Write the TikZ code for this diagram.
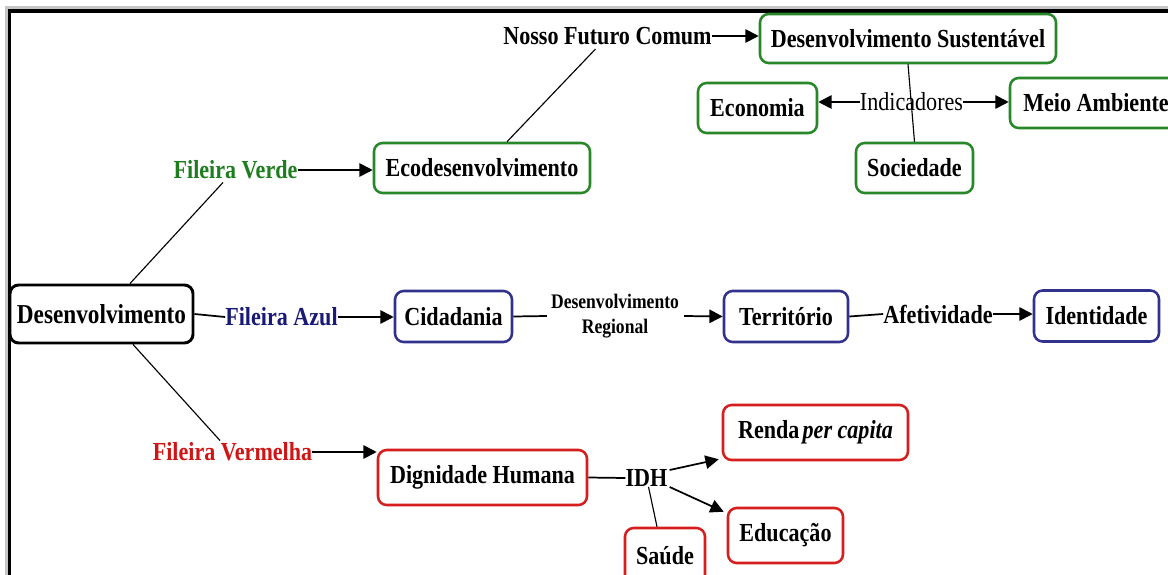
\documentclass[tikz,border=0pt]{standalone}
\usepackage{fontspec}
\newfontfamily\cf{Liberation Serif}[FakeStretch=0.85]
\usetikzlibrary{arrows.meta,calc}
\definecolor{gbord}{RGB}{40,135,40}
\definecolor{gtext}{RGB}{30,125,30}
\definecolor{bbord}{RGB}{50,50,140}
\definecolor{btext}{RGB}{25,25,120}
\definecolor{rbord}{RGB}{215,30,30}
\definecolor{rtext}{RGB}{210,20,20}
\tikzset{
  every node/.style={font=\cf\bfseries\fontsize{19.5}{22}\selectfont, inner sep=0pt},
  mw/.style={minimum width={#1*0.75pt}},
  mh/.style={minimum height={#1*0.75pt}},
  box/.style={draw, rounded corners=6.5pt, line width=1.9pt, fill=white, align=center},
  gbox/.style={box, draw=gbord},
  bbox/.style={box, draw=bbord},
  rbox/.style={box, draw=rbord},
  kbox/.style={box, draw=black, line width=2.2pt},
  conn/.style={line width=1.3pt},
  thin/.style={line width=0.85pt},
  arr/.style={line width=1.3pt, -{Triangle[length=10pt,width=10pt]}},
}
\begin{document}
\begin{tikzpicture}[x=0.75pt,y=-0.75pt]
\useasboundingbox (0,0) rectangle (1168,575);
\clip (0,0) rectangle (1168,575);
\fill[white] (0,0) rectangle (1168,575);
% frame
\draw[gray!45, line width=2pt] (6.5,575) -- (6.5,7.5) -- (1168,7.5);
\draw[black, line width=2.4pt] (9.5,575) -- (9.5,11) -- (1168,11);

% row 1 (green)
\node[kbox, mw=183, mh=58, font=\cf\bfseries\fontsize{20.5}{24}\selectfont] (des) at (101.5,314) {Desenvolvimento};
\node[text=gtext] (fv) at (235.5,170) {Fileira Verde};
\node[gbox, mw=216, mh=50] (eco) at (482,168) {Ecodesenvolvimento};
\node (nfc) at (607.5,36) {Nosso Futuro Comum};
\node[gbox, mw=296, mh=49] (ds) at (908,38.5) {Desenvolvimento Sustentável};
\node[font=\cf\fontsize{19.5}{22}\selectfont] (ind) at (911.5,102) {Indicadores};
\node[gbox, mw=119, mh=50] (ec) at (757.5,108) {Economia};
\node[gbox, mw=172, mh=50] (ma) at (1096,103) {Meio Ambiente};
\node[gbox, mw=117, mh=50] (soc) at (914.5,168) {Sociedade};

% row 2 (blue)
\node[text=btext] (fa) at (281.5,317) {Fileira Azul};
\node[bbox, mw=117, mh=51] (cid) at (453.5,316.5) {Cidadania};
\node[align=center, font=\cf\bfseries\fontsize{15.5}{19}\selectfont] (dr) at (615,316) {Desenvolvimento\\Regional};
\node[bbox, mw=124, mh=51] (ter) at (786,316.5) {Território};
\node (af) at (938,314) {Afetividade};
\node[bbox, mw=125, mh=51] (idt) at (1096.5,316) {Identidade};

% row 3 (red)
\node[text=rtext] (fvm) at (232.5,452) {Fileira Vermelha};
\node[rbox, mw=209, mh=55] (dh) at (482.5,477.5) {Dignidade Humana};
\node (idh) at (646.5,478) {IDH};
\node[rbox, mw=185, mh=55] (rpc) at (815.5,432.5) {Renda\hspace{0.12em}\textit{per capita}};
\node[rbox, mw=115, mh=55] (edu) at (785.5,535.5) {Educação};
\node[rbox, mw=80, mh=56] (sau) at (665,556) {Saúde};

% connectors green
\draw[thin] ($(des.north)+(28.5,0)$) -- ($(fv.south)+(-12.5,3)$);
\draw[arr] (fv.east) -- (fv.east -| eco.west);
\draw[thin] ($(eco.north)+(25,0)$) -- ($(nfc.south)+(-12,4)$);
\draw[arr] (nfc.east) -- (nfc.east -| ds.west);
\draw[thin] (ds.south) -- (soc.north);
\draw[arr] (ind.west) -- (ind.west -| ec.east);
\draw[arr] (ind.east) -- (ind.east -| ma.west);

% connectors blue
\draw[conn] (des.east) -- (fa.west);
\draw[arr] (fa.east) -- (fa.east -| cid.west);
\draw[conn] (cid.east) -- ($(dr.west)+(-4,0)$);
\draw[arr] ($(dr.east)+(5,0)$) -- (ter.west);
\draw[conn] (ter.east) -- (af.west);
\draw[arr] (af.east) -- (af.east -| idt.west);

% connectors red
\draw[thin] ($(des.south)+(31.5,0)$) -- ($(fvm.north)+(-12.5,-2)$);
\draw[arr] (fvm.east) -- (fvm.east -| dh.west);
\draw[conn] (dh.east) -- (idh.west);
\draw[arr] ($(idh.east)+(2,-8)$) -- ($(rpc.south west)+(-3,-2)$);
\draw[arr] ($(idh.east)+(2,9)$) -- ($(edu.north west)+(-3,5)$);
\draw[thin] ($(idh.south)+(2,0)$) -- ($(sau.north)+(-8,0)$);
\end{tikzpicture}
\end{document}
